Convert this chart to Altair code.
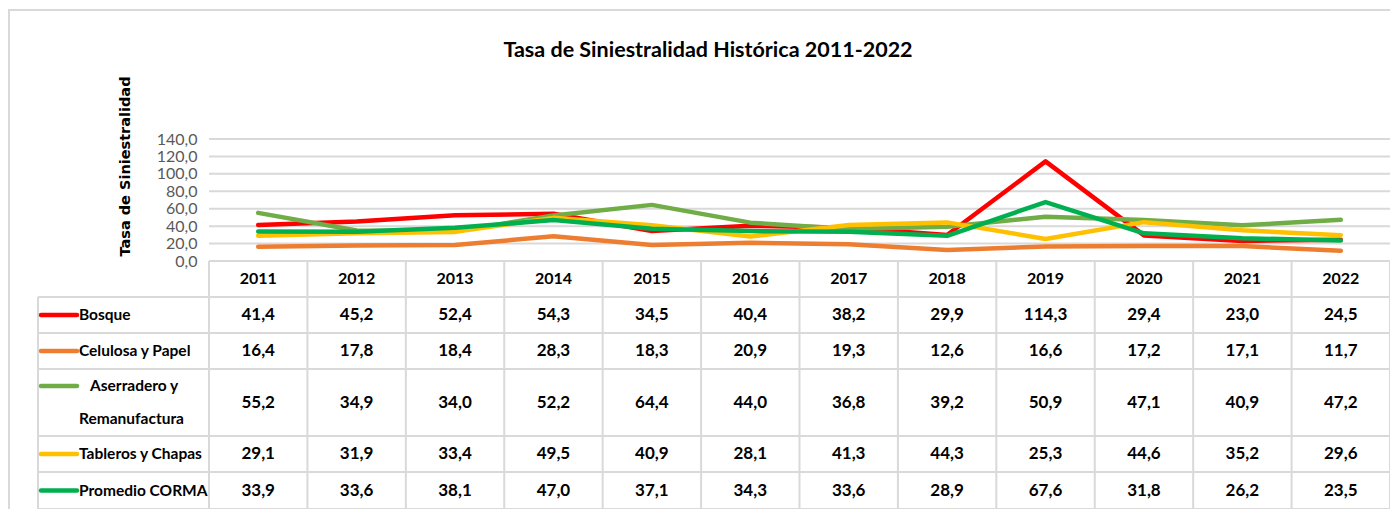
import altair as alt
import pandas as pd

# ---------------- data ----------------
years = [2011, 2012, 2013, 2014, 2015, 2016, 2017, 2018, 2019, 2020, 2021, 2022]
series = ["Bosque", "Celulosa y Papel", "Aserradero y Remanufactura",
          "Tableros y Chapas", "Promedio CORMA"]
row_labels = [["Bosque"], ["Celulosa y Papel"], ["Aserradero y", "Remanufactura"],
              ["Tableros y Chapas"], ["Promedio CORMA"]]
bosque = [41.4, 45.2, 52.4, 54.3, 34.5, 40.4, 38.2, 29.9, 114.3, 29.4, 23.0, 24.5]
celulosa = [16.4, 17.8, 18.4, 28.3, 18.3, 20.9, 19.3, 12.6, 16.6, 17.2, 17.1, 11.7]
aserradero = [55.2, 34.9, 34.0, 52.2, 64.4, 44.0, 36.8, 39.2, 50.9, 47.1, 40.9, 47.2]
tableros = [29.1, 31.9, 33.4, 49.5, 40.9, 28.1, 41.3, 44.3, 25.3, 44.6, 35.2, 29.6]
promedio = [33.9, 33.6, 38.1, 47.0, 37.1, 34.3, 33.6, 28.9, 67.6, 31.8, 26.2, 23.5]
y_ticks = [0, 20, 40, 60, 80, 100, 120, 140]

values = [bosque, celulosa, aserradero, tableros, promedio]
colors = ["#FF0000", "#ED7D31", "#70AD47", "#FFC000", "#00B050"]

# ---------------- layout ----------------
COLW = 98.42          # px per year column
LABW = 171.0          # px of the label column
LAB_LEFT = -LABW / COLW
NCOL = len(years)
PLOT_H = 122          # px of line panel
ROW_H = [36, 36, 36, 67, 36, 37]   # header + 5 rows (px units)
TABLE_H = sum(ROW_H)
W = 1352
H = PLOT_H + TABLE_H
LINE_H = 33
TEXT_X = 41           # px from the left edge of the label column
INDENT = 11           # px indent of the first line of wrapped labels

FONT = "Lato"

xscale = alt.Scale(domain=[LAB_LEFT, NCOL], range=[0, W], nice=False, zero=False)
yline = alt.Scale(domain=[0, 140], range=[PLOT_H, 0], nice=False, zero=False)
ytab = alt.Scale(domain=[0, TABLE_H], range=[PLOT_H, H], nice=False, zero=False)
cscale = alt.Scale(domain=series, range=colors)

bounds = [0]
for h in ROW_H:
    bounds.append(bounds[-1] + h)
centers = [(bounds[i] + bounds[i + 1]) / 2 for i in range(len(ROW_H))]

recs = []
for si, (s, vals) in enumerate(zip(series, values)):
    for i, (yr, v) in enumerate(zip(years, vals)):
        recs.append({"series": s, "year": yr, "col": i + 0.5, "val": v,
                     "txt": f"{v:.1f}".replace(".", ","), "ty": centers[si + 1]})
df = pd.DataFrame(recs)

grid = pd.DataFrame({"v": y_ticks, "x0": 0, "x1": NCOL})

segs = []
for k, b in enumerate(bounds):
    segs.append({"x": 0 if k == 0 else LAB_LEFT, "x2": NCOL, "y": b, "y2": b})
for c in range(NCOL + 1):
    segs.append({"x": c, "x2": c, "y": 0, "y2": TABLE_H})
segs.append({"x": LAB_LEFT, "x2": LAB_LEFT, "y": bounds[1], "y2": TABLE_H})
segdf = pd.DataFrame(segs)

hdr = pd.DataFrame({"col": [i + 0.5 for i in range(NCOL)], "year": [str(y) for y in years],
                    "ty": centers[0]})

sw_recs, lab_recs = [], []
for si, (s, lines) in enumerate(zip(series, row_labels)):
    n = len(lines)
    top = centers[si + 1] - (n - 1) * LINE_H / 2
    sw_recs.append({"series": s, "sx": LAB_LEFT + 3 / COLW, "sx2": LAB_LEFT + 39 / COLW,
                    "sy": top})
    for li, t in enumerate(lines):
        ind = INDENT if (n > 1 and li == 0) else 0
        lab_recs.append({"label": t, "x": LAB_LEFT + (TEXT_X + ind) / COLW,
                         "ty": top + li * LINE_H})
swdf = pd.DataFrame(sw_recs)
labdf = pd.DataFrame(lab_recs)

# ---------------- layers ----------------
frame = alt.Chart(pd.DataFrame({"k": [0]})).mark_rect(
    fillOpacity=0, stroke="#d9d9d9", strokeWidth=2
).encode(x=alt.value(-29), x2=alt.value(1400), y=alt.value(-129), y2=alt.value(420))

title = alt.Chart(pd.DataFrame({"k": [0]})).mark_text(
    text="Tasa de Siniestralidad Histórica 2011-2022", font=FONT, fontSize=21.5,
    fontWeight="bold", color="#000000", align="center", baseline="middle"
).encode(x=alt.value(670), y=alt.value(-88))

gridl = alt.Chart(grid).mark_rule(color="#d9d9d9", strokeWidth=2).encode(
    x=alt.X("x0:Q", scale=xscale, axis=None),
    x2="x1:Q",
    y=alt.Y("v:Q", scale=yline, axis=alt.Axis(
        values=y_ticks, offset=-LABW, ticks=False, tickSize=0, domain=False, grid=False,
        labelExpr="replace(format(datum.value, '.1f'), '.', ',')",
        labelFont=FONT, labelFontSize=16, labelColor="#595959", labelPadding=12,
        title="Tasa de Siniestralidad", titleFont="DejaVu Sans", titleFontSize=14.5,
        titleFontWeight="bold", titleColor="#000000", titleAngle=270,
        titleX=-84, titleY=27, titleAlign="center", titleBaseline="middle")),
)

line_layers = []
for s in series:
    line_layers.append(
        alt.Chart(df).transform_filter(alt.datum.series == s).mark_line(
            strokeWidth=4.5, strokeCap="round", strokeJoin="round"
        ).encode(
            x=alt.X("col:Q", scale=xscale, axis=None),
            y=alt.Y("val:Q", scale=yline, axis=None),
            color=alt.Color("series:N", scale=cscale, legend=None),
        )
    )

borders = alt.Chart(segdf).mark_rule(color="#d9d9d9", strokeWidth=2).encode(
    x=alt.X("x:Q", scale=xscale, axis=None), x2="x2:Q",
    y=alt.Y("y:Q", scale=ytab, axis=None), y2="y2:Q",
)

header = alt.Chart(hdr).mark_text(font=FONT, fontSize=16, fontWeight="bold",
                                  color="#000000", baseline="middle").encode(
    x=alt.X("col:Q", scale=xscale, axis=None),
    y=alt.Y("ty:Q", scale=ytab, axis=None),
    text="year:N",
)

cells = alt.Chart(df).mark_text(font=FONT, fontSize=17, fontWeight="bold",
                                color="#000000", baseline="middle").encode(
    x=alt.X("col:Q", scale=xscale, axis=None),
    y=alt.Y("ty:Q", scale=ytab, axis=None),
    text="txt:N",
)

swatch = alt.Chart(swdf).mark_rule(strokeWidth=4.5, strokeCap="round").encode(
    x=alt.X("sx:Q", scale=xscale, axis=None), x2="sx2:Q",
    y=alt.Y("sy:Q", scale=ytab, axis=None),
    color=alt.Color("series:N", scale=cscale, legend=None),
)

labels = alt.Chart(labdf).mark_text(font=FONT, fontSize=15.5, fontWeight="bold",
                                    color="#000000", align="left", baseline="middle").encode(
    x=alt.X("x:Q", scale=xscale, axis=None),
    y=alt.Y("ty:Q", scale=ytab, axis=None),
    text="label:N",
)

chart = alt.layer(
    frame, title, gridl, *line_layers, borders, header, cells, swatch, labels
).resolve_scale(y="independent").properties(
    width=W, height=H,
    autosize=alt.AutoSizeParams(type="none"),
    padding={"left": 30, "top": 131, "right": 0, "bottom": 0},
    background="white",
).configure_view(strokeWidth=0)

chart.save("out.html", embed_options={"renderer": "svg", "actions": False})
